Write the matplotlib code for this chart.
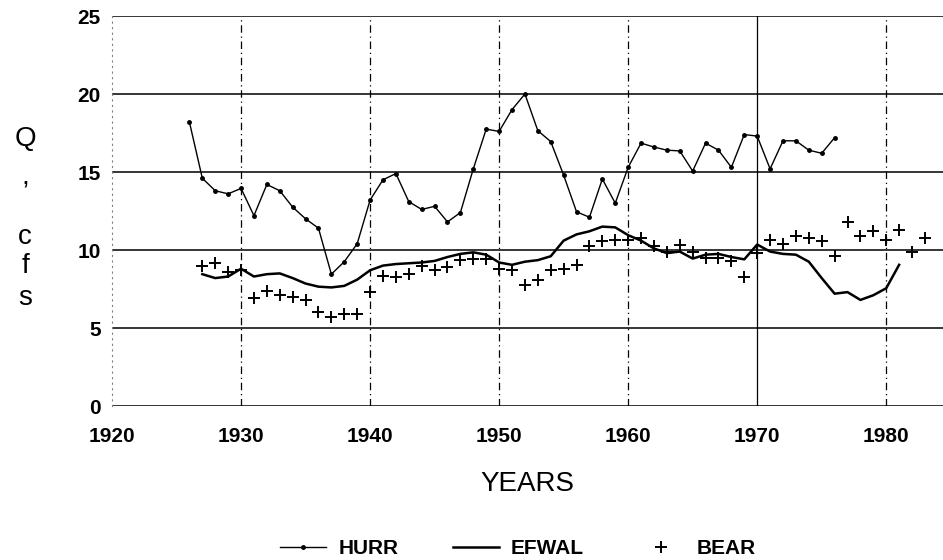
import numpy as np
import matplotlib
matplotlib.use("Agg")
import matplotlib.pyplot as plt
from matplotlib.lines import Line2D

plt.rcParams['font.family'] = ['Liberation Sans', 'DejaVu Sans']

# --- Caudales medios anuales (cfs) ---
hurr_years = list(range(1926, 1977))
hurr_q = [18.2, 14.6, 13.8, 13.6, 13.95, 12.2, 14.2, 13.8, 12.75, 12.0,
          11.4, 8.45, 9.25, 10.4, 13.2, 14.5, 14.9, 13.1, 12.6, 12.8,
          11.8, 12.4, 15.2, 17.75, 17.6, 19.0, 20.0, 17.65, 16.95, 14.8,
          12.45, 12.1, 14.55, 13.0, 15.3, 16.85, 16.6, 16.4, 16.35, 15.06,
          16.85, 16.4, 15.3, 17.4, 17.3, 15.2, 17.0, 17.0, 16.4, 16.2,
          17.2]

efwal_years = list(range(1927, 1982))
efwal_q = [8.45, 8.2, 8.3, 8.8, 8.3, 8.45, 8.5, 8.2, 7.85, 7.65,
           7.6, 7.7, 8.1, 8.7, 9.0, 9.1, 9.15, 9.2, 9.3, 9.55,
           9.75, 9.85, 9.7, 9.2, 9.05, 9.25, 9.35, 9.6, 10.6, 11.0,
           11.2, 11.5, 11.45, 10.95, 10.6, 10.1, 9.8, 9.9, 9.45, 9.7,
           9.75, 9.55, 9.4, 10.35, 9.9, 9.75, 9.7, 9.25, 8.2, 7.2,
           7.3, 6.8, 7.1, 7.55, 9.05]

bear_years = list(range(1927, 1984))
bear_q = [8.97, 9.15, 8.6, 8.75, 6.9, 7.4, 7.1, 6.97, 6.8, 6.0,
          5.72, 5.9, 5.9, 7.33, 8.35, 8.28, 8.45, 8.97, 8.7, 8.9,
          9.35, 9.4, 9.4, 8.8, 8.7, 7.75, 8.1, 8.7, 8.8, 9.05,
          10.25, 10.6, 10.65, 10.65, 10.75, 10.25, 9.85, 10.3, 9.9, 9.47,
          9.47, 9.3, 8.3, 9.8, 10.65, 10.4, 10.9, 10.75, 10.55, 9.6,
          11.8, 10.9, 11.2, 10.65, 11.3, 9.9, 10.8]

x_ticks = [1920, 1930, 1940, 1950, 1960, 1970, 1980]
y_ticks = [0, 5, 10, 15, 20, 25]

fig = plt.figure(figsize=(9.43, 5.6), dpi=100)
ax = fig.add_axes([112 / 943, 1 - 406 / 560, 1 - 112 / 943, 390 / 560])

# rejilla: horizontales continuas, verticales punto-raya (1970 continua)
for y in y_ticks:
    ax.axhline(y, color='black', lw=1.1, zorder=1)
for x in x_ticks[1:]:
    ls = '-' if x == 1970 else (0, (6, 3, 1, 3))
    ax.axvline(x, color='black', lw=0.9, ls=ls, zorder=1)

ax.plot(hurr_years, hurr_q, color='black', lw=1.0, marker='o', ms=2.5, zorder=3)
ax.plot(efwal_years, efwal_q, color='black', lw=1.8, zorder=3)
ax.plot(bear_years, bear_q, ls='none', color='black', marker='+', ms=8, mew=1.4, zorder=4)

ax.set_xlim(1920, 1984.4)
ax.set_ylim(0, 25)
ax.set_xticks(x_ticks)
ax.set_yticks(y_ticks)
ax.tick_params(length=0, labelsize=15)
ax.tick_params(axis='x', pad=15)
ax.tick_params(axis='y', pad=8)
for lbl in ax.get_xticklabels() + ax.get_yticklabels():
    lbl.set_fontweight('bold')

for s in ['top', 'right', 'bottom']:
    ax.spines[s].set_visible(False)
ax.spines['left'].set_linestyle((0, (1, 4)))
ax.spines['left'].set_color('gray')
ax.spines['left'].set_linewidth(0.8)

ax.set_xlabel('YEARS', fontsize=20, labelpad=18)

# etiqueta del eje y en letras apiladas
for ch, ypix in [('Q', 139), (',', 178), ('c', 237), ('f', 266), ('s', 298)]:
    fig.text(25 / 943, 1 - ypix / 560, ch, fontsize=20, ha='center', va='center')

handles = [
    Line2D([], [], color='black', lw=1.0, marker='o', ms=2.5),
    Line2D([], [], color='black', lw=1.8),
    Line2D([], [], ls='none', color='black', marker='+', ms=8, mew=1.4),
]
fig.legend(handles, ['HURR', 'EFWAL', 'BEAR'], loc='center',
           bbox_to_anchor=(518 / 943, 1 - 549 / 560), ncol=3, frameon=False,
           handlelength=2.2, handletextpad=0.6, columnspacing=2.6,
           prop={'size': 15, 'weight': 'bold'})

fig.savefig('out.png', dpi=100)
